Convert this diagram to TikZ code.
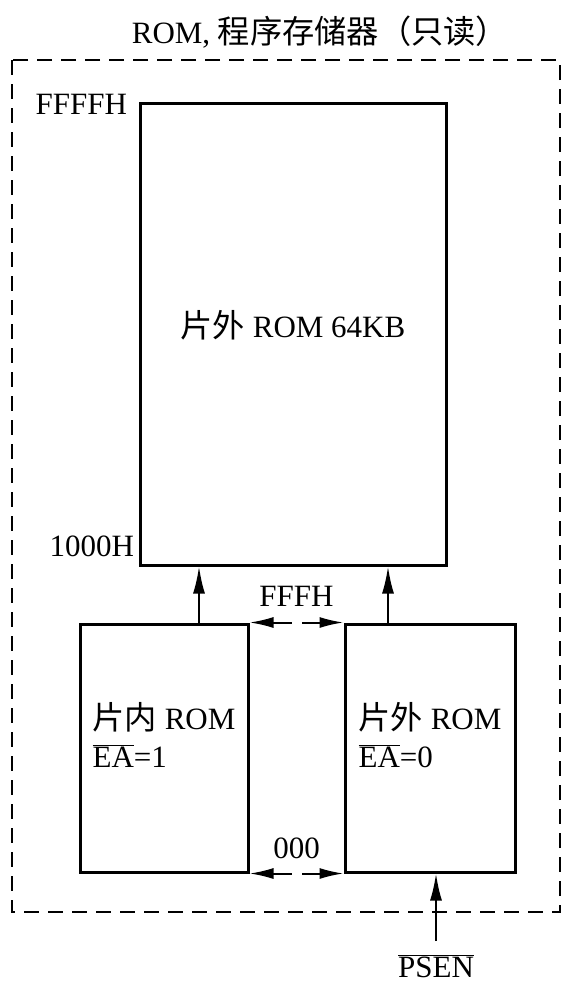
\documentclass[tikz,border=0pt]{standalone}
\usepackage{fontspec}
\setmainfont{Liberation Serif}
\newfontfamily\cjk[Scale=1.04]{Noto Sans CJK SC}
\usetikzlibrary{positioning, arrows.meta}
\tikzset{
	mem/.style={
		draw,
		line width=3pt,
		inner sep=0pt
	},
	arr/.style={
		-{Latex[length=27pt,width=12pt]},
		line width=2pt
	},
	dbl/.style={
		{Latex[length=24pt,width=11pt]}-{Latex[length=24pt,width=11pt]},
		line width=2pt,
		dash pattern=on 19.5pt off 10pt
	},
	frame/.style={
		draw,
		line width=2pt,
		dash pattern=on 15pt off 9pt
	}
}
\begin{document}
\begin{tikzpicture}[x=1pt, y=-1pt, font=\fontsize{31}{38}\selectfont]
		\useasboundingbox (0,0) rectangle (575,993);
		\draw [frame] (12,60) rectangle (560,912);
		\node (title) at (320,32) {ROM, {\cjk 程序存储器（只读）}};
		
		\node [mem, minimum width=306pt, minimum height=462pt,
			label={[yshift=9pt]center:{\cjk 片外} ROM 64KB}] (ext) at (293,334) {};
		\node [mem, minimum width=168pt, minimum height=248pt,
			label={[align=left, yshift=13pt]center:{{\cjk 片内} ROM\\$\overline{\mbox{EA}}$=1}}] (lbox) at (164,748) {};
		\node [mem, minimum width=170pt, minimum height=248pt,
			label={[align=left, yshift=13pt]center:{{\cjk 片外} ROM\\$\overline{\mbox{EA}}$=0}}] (rbox) at (430,748) {};
		
		\node [anchor=base east] at ([xshift=-8pt, yshift=-13pt]ext.north west) {FFFFH};
		\node [anchor=base east] at ([xshift=-1pt, yshift=10pt]ext.south west) {1000H};
		
		\coordinate (la) at ([xshift=35pt]lbox.north);
		\coordinate (ra) at ([xshift=-42pt]rbox.north);
		\draw [arr] (la) -- (la |- ext.south);
		\draw [arr] (ra) -- (ra |- ext.south);
		
		\draw [dbl] (lbox.north east) -- (rbox.north west) node [midway, above=12pt] {FFFH};
		\draw [dbl] (lbox.south east) -- (rbox.south west) node [midway, above=10pt] {000};
		
		\node (psen) at (436,966) {$\overline{\mbox{PSEN}}$};
		\draw [arr, shorten <=10pt] (psen.north) -- (psen.north |- rbox.south);
\end{tikzpicture}
\end{document}
